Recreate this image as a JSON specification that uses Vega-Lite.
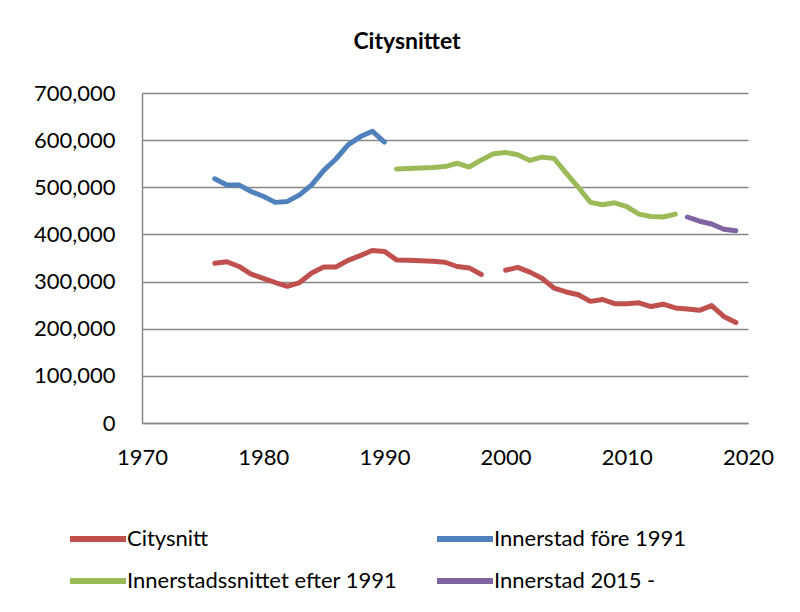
{
  "$schema": "https://vega.github.io/schema/vega-lite/v6.json",
  "width": 606,
  "height": 330,
  "autosize": "none",
  "padding": {"left": 142, "top": 93, "right": 52, "bottom": 189},
  "background": "white",
  "config": {"view": {"stroke": null}, "font": "Lato"},
  "title": {"text": "Citysnittet", "font": "Lato", "fontSize": 23, "fontWeight": "bold", "color": "#000000", "anchor": "middle", "frame": "group", "dx": -38, "offset": 28},
  "data": {"values": [
    {"year": 1976, "series": "Citysnitt", "value": 339000},
    {"year": 1977, "series": "Citysnitt", "value": 342000},
    {"year": 1978, "series": "Citysnitt", "value": 332000},
    {"year": 1979, "series": "Citysnitt", "value": 316000},
    {"year": 1980, "series": "Citysnitt", "value": 307000},
    {"year": 1981, "series": "Citysnitt", "value": 298000},
    {"year": 1982, "series": "Citysnitt", "value": 290000},
    {"year": 1983, "series": "Citysnitt", "value": 298000},
    {"year": 1984, "series": "Citysnitt", "value": 318000},
    {"year": 1985, "series": "Citysnitt", "value": 331000},
    {"year": 1986, "series": "Citysnitt", "value": 331000},
    {"year": 1987, "series": "Citysnitt", "value": 345000},
    {"year": 1988, "series": "Citysnitt", "value": 355000},
    {"year": 1989, "series": "Citysnitt", "value": 366000},
    {"year": 1990, "series": "Citysnitt", "value": 364000},
    {"year": 1991, "series": "Citysnitt", "value": 346000},
    {"year": 1992, "series": "Citysnitt", "value": 345000},
    {"year": 1993, "series": "Citysnitt", "value": 344000},
    {"year": 1994, "series": "Citysnitt", "value": 343000},
    {"year": 1995, "series": "Citysnitt", "value": 341000},
    {"year": 1996, "series": "Citysnitt", "value": 332000},
    {"year": 1997, "series": "Citysnitt", "value": 329000},
    {"year": 1998, "series": "Citysnitt", "value": 315000},
    {"year": 1999, "series": "Citysnitt", "value": null},
    {"year": 2000, "series": "Citysnitt", "value": 324000},
    {"year": 2001, "series": "Citysnitt", "value": 330000},
    {"year": 2002, "series": "Citysnitt", "value": 320000},
    {"year": 2003, "series": "Citysnitt", "value": 307000},
    {"year": 2004, "series": "Citysnitt", "value": 286000},
    {"year": 2005, "series": "Citysnitt", "value": 278000},
    {"year": 2006, "series": "Citysnitt", "value": 272000},
    {"year": 2007, "series": "Citysnitt", "value": 258000},
    {"year": 2008, "series": "Citysnitt", "value": 262000},
    {"year": 2009, "series": "Citysnitt", "value": 253000},
    {"year": 2010, "series": "Citysnitt", "value": 253000},
    {"year": 2011, "series": "Citysnitt", "value": 255000},
    {"year": 2012, "series": "Citysnitt", "value": 247000},
    {"year": 2013, "series": "Citysnitt", "value": 252000},
    {"year": 2014, "series": "Citysnitt", "value": 244000},
    {"year": 2015, "series": "Citysnitt", "value": 242000},
    {"year": 2016, "series": "Citysnitt", "value": 239000},
    {"year": 2017, "series": "Citysnitt", "value": 249000},
    {"year": 2018, "series": "Citysnitt", "value": 226000},
    {"year": 2019, "series": "Citysnitt", "value": 213000},
    {"year": 1976, "series": "Innerstad före 1991", "value": 518000},
    {"year": 1977, "series": "Innerstad före 1991", "value": 505000},
    {"year": 1978, "series": "Innerstad före 1991", "value": 505000},
    {"year": 1979, "series": "Innerstad före 1991", "value": 491000},
    {"year": 1980, "series": "Innerstad före 1991", "value": 481000},
    {"year": 1981, "series": "Innerstad före 1991", "value": 468000},
    {"year": 1982, "series": "Innerstad före 1991", "value": 470000},
    {"year": 1983, "series": "Innerstad före 1991", "value": 484000},
    {"year": 1984, "series": "Innerstad före 1991", "value": 505000},
    {"year": 1985, "series": "Innerstad före 1991", "value": 536000},
    {"year": 1986, "series": "Innerstad före 1991", "value": 560000},
    {"year": 1987, "series": "Innerstad före 1991", "value": 590000},
    {"year": 1988, "series": "Innerstad före 1991", "value": 607000},
    {"year": 1989, "series": "Innerstad före 1991", "value": 619000},
    {"year": 1990, "series": "Innerstad före 1991", "value": 596000},
    {"year": 1991, "series": "Innerstadssnittet efter 1991", "value": 539000},
    {"year": 1992, "series": "Innerstadssnittet efter 1991", "value": 540000},
    {"year": 1993, "series": "Innerstadssnittet efter 1991", "value": 541000},
    {"year": 1994, "series": "Innerstadssnittet efter 1991", "value": 542000},
    {"year": 1995, "series": "Innerstadssnittet efter 1991", "value": 544000},
    {"year": 1996, "series": "Innerstadssnittet efter 1991", "value": 551000},
    {"year": 1997, "series": "Innerstadssnittet efter 1991", "value": 543000},
    {"year": 1998, "series": "Innerstadssnittet efter 1991", "value": 558000},
    {"year": 1999, "series": "Innerstadssnittet efter 1991", "value": 571000},
    {"year": 2000, "series": "Innerstadssnittet efter 1991", "value": 574000},
    {"year": 2001, "series": "Innerstadssnittet efter 1991", "value": 569000},
    {"year": 2002, "series": "Innerstadssnittet efter 1991", "value": 557000},
    {"year": 2003, "series": "Innerstadssnittet efter 1991", "value": 564000},
    {"year": 2004, "series": "Innerstadssnittet efter 1991", "value": 561000},
    {"year": 2005, "series": "Innerstadssnittet efter 1991", "value": 530000},
    {"year": 2006, "series": "Innerstadssnittet efter 1991", "value": 500000},
    {"year": 2007, "series": "Innerstadssnittet efter 1991", "value": 468000},
    {"year": 2008, "series": "Innerstadssnittet efter 1991", "value": 463000},
    {"year": 2009, "series": "Innerstadssnittet efter 1991", "value": 467000},
    {"year": 2010, "series": "Innerstadssnittet efter 1991", "value": 459000},
    {"year": 2011, "series": "Innerstadssnittet efter 1991", "value": 443000},
    {"year": 2012, "series": "Innerstadssnittet efter 1991", "value": 438000},
    {"year": 2013, "series": "Innerstadssnittet efter 1991", "value": 437000},
    {"year": 2014, "series": "Innerstadssnittet efter 1991", "value": 443000},
    {"year": 2015, "series": "Innerstad 2015 -", "value": 437000},
    {"year": 2016, "series": "Innerstad 2015 -", "value": 428000},
    {"year": 2017, "series": "Innerstad 2015 -", "value": 422000},
    {"year": 2018, "series": "Innerstad 2015 -", "value": 411000},
    {"year": 2019, "series": "Innerstad 2015 -", "value": 408000}
  ]},
  "mark": {"type": "line", "strokeWidth": 5, "strokeCap": "round", "strokeJoin": "round", "invalid": "break-paths-show-domains"},
  "encoding": {
    "x": {
      "field": "year", "type": "quantitative",
      "scale": {"domain": [1970, 2020], "nice": false, "zero": false},
      "axis": {"title": null, "values": [1970, 1980, 1990, 2000, 2010, 2020], "format": "d", "grid": false, "ticks": false, "domainColor": "#868686", "domainWidth": 1.5, "labelFont": "Lato", "labelFontSize": 22, "labelColor": "#000000", "labelPadding": 24, "labelFlush": false}
    },
    "y": {
      "field": "value", "type": "quantitative",
      "scale": {"domain": [0, 700000], "nice": false},
      "axis": {"title": null, "values": [0, 100000, 200000, 300000, 400000, 500000, 600000, 700000], "format": ",.0f", "grid": true, "gridColor": "#868686", "gridWidth": 1.5, "ticks": false, "domainColor": "#868686", "domainWidth": 1.5, "labelFont": "Lato", "labelFontSize": 22, "labelColor": "#000000", "labelPadding": 27}
    },
    "color": {
      "field": "series", "type": "nominal",
      "scale": {"domain": ["Citysnitt", "Innerstad före 1991", "Innerstadssnittet efter 1991", "Innerstad 2015 -"], "range": ["#C0504D", "#4F81BD", "#9BBB59", "#8064A2"]},
      "legend": {"title": null, "orient": "none", "legendX": -75, "legendY": 429, "columns": 2, "direction": "horizontal", "symbolType": "M-1,0H3", "symbolSize": 784, "symbolStrokeWidth": 6, "labelFont": "Lato", "labelFontSize": 22, "labelColor": "#000000", "labelOffset": 26, "labelLimit": 400, "columnPadding": 27, "rowPadding": 13}
    }
  }
}
